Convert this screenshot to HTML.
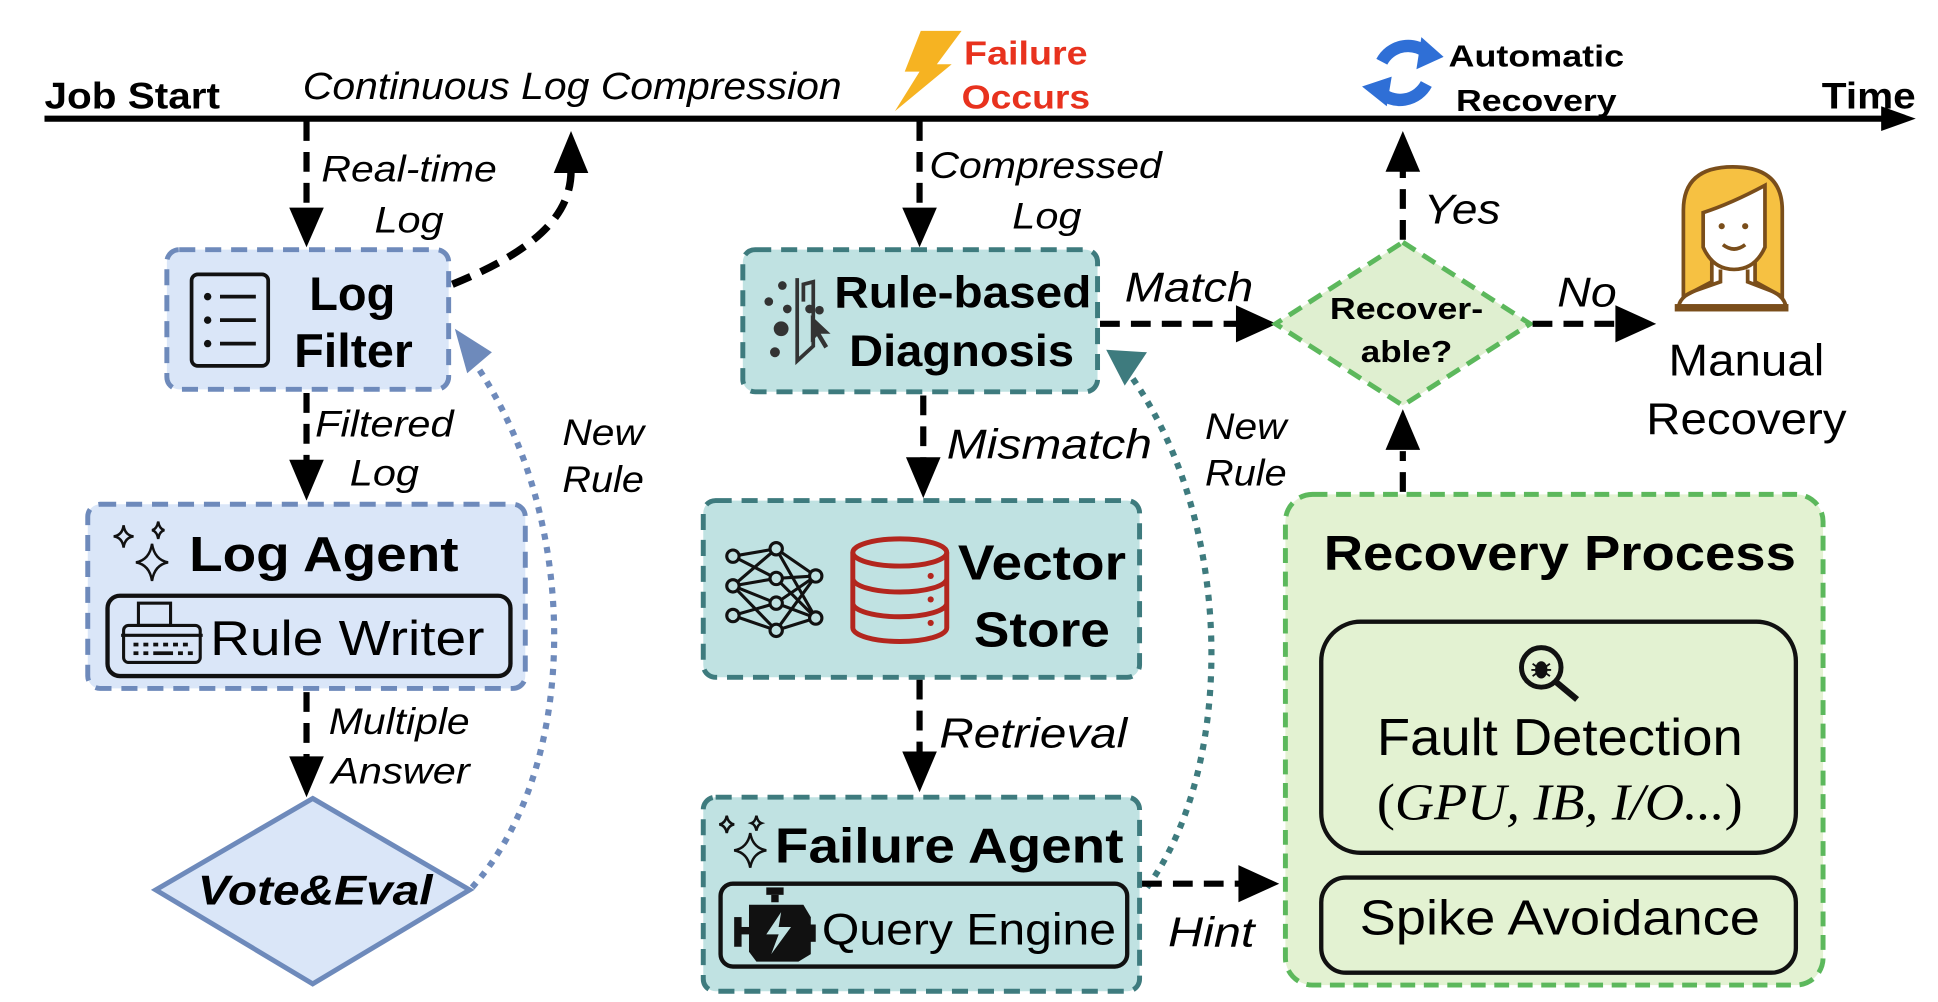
<!DOCTYPE html>
<html><head><meta charset="utf-8"><style>
html,body{margin:0;padding:0;background:#fff;}
svg{display:block;}
text{font-family:"Liberation Sans",sans-serif;}
.it{font-style:italic;}
.b{font-weight:bold;}
</style></head><body>
<svg width="1938" height="1002" viewBox="0 0 1568 810.7" preserveAspectRatio="none" xmlns="http://www.w3.org/2000/svg">
<!-- timeline -->
<line x1="36" y1="96" x2="1528" y2="96" stroke="#000" stroke-width="5"/>
<path d="M1522,86 L1550,96 L1522,106 z" fill="#000"/>
<text x="36" y="88" class="b" font-size="30" textLength="142" lengthAdjust="spacingAndGlyphs">Job Start</text>
<text x="245" y="80" class="it" font-size="31" textLength="436" lengthAdjust="spacingAndGlyphs">Continuous Log Compression</text>
<path d="M745,25 L778,25 L758,52 L770,52 L724,90 L744,58 L732,58 z" fill="#f6b322"/>
<text x="780" y="52" class="b" font-size="27" fill="#e8321e" textLength="100" lengthAdjust="spacingAndGlyphs">Failure</text>
<text x="778" y="88" class="b" font-size="27" fill="#e8321e" textLength="104" lengthAdjust="spacingAndGlyphs">Occurs</text>
<path d="M1118,50 A24,24 0 0 1 1156,44" fill="none" stroke="#2f6fd6" stroke-width="10"/>
<path d="M1150,30 L1168,46 L1146,56 z" fill="#2f6fd6"/>
<path d="M1154,68 A24,24 0 0 1 1116,74" fill="none" stroke="#2f6fd6" stroke-width="10"/>
<path d="M1122,86 L1102,70 L1126,62 z" fill="#2f6fd6"/>
<text x="1172" y="54" class="b" font-size="25" textLength="142" lengthAdjust="spacingAndGlyphs">Automatic</text>
<text x="1178" y="90" class="b" font-size="25" textLength="130" lengthAdjust="spacingAndGlyphs">Recovery</text>
<text x="1474" y="88" class="b" font-size="30" textLength="76" lengthAdjust="spacingAndGlyphs">Time</text>

<!-- LEFT column -->
<line x1="248" y1="98" x2="248" y2="172" stroke="#000" stroke-width="5" stroke-dasharray="16,9"/>
<path d="M234,168 L262,168 L248,200 z" fill="#000"/>
<text x="260" y="147" class="it" font-size="30" textLength="142" lengthAdjust="spacingAndGlyphs">Real-time</text>
<text x="303" y="188" class="it" font-size="30" textLength="56" lengthAdjust="spacingAndGlyphs">Log</text>
<path d="M366,230 C440,200 462,170 462,138" fill="none" stroke="#000" stroke-width="6" stroke-dasharray="16,9"/>
<path d="M448,140 L476,140 L462,106 z" fill="#000"/>

<rect x="135" y="202" width="228" height="113" rx="10" fill="#dae6f8" stroke="#6e8abb" stroke-width="4" stroke-dasharray="13,8"/>
<rect x="155" y="222" width="62" height="74" rx="5" fill="none" stroke="#111" stroke-width="3"/>
<g fill="#111"><circle cx="168" cy="240" r="3"/><circle cx="168" cy="259" r="3"/><circle cx="168" cy="278" r="3"/></g>
<g stroke="#111" stroke-width="3"><line x1="178" y1="240" x2="207" y2="240"/><line x1="178" y1="259" x2="207" y2="259"/><line x1="178" y1="278" x2="207" y2="278"/></g>
<text x="285" y="251" class="b" font-size="38" text-anchor="middle">Log</text>
<text x="286" y="297" class="b" font-size="38" text-anchor="middle" textLength="96" lengthAdjust="spacingAndGlyphs">Filter</text>

<line x1="248" y1="318" x2="248" y2="375" stroke="#000" stroke-width="5" stroke-dasharray="16,9"/>
<path d="M234,372 L262,372 L248,405 z" fill="#000"/>
<text x="255" y="353" class="it" font-size="30" textLength="112" lengthAdjust="spacingAndGlyphs">Filtered</text>
<text x="283" y="393" class="it" font-size="30" textLength="56" lengthAdjust="spacingAndGlyphs">Log</text>

<rect x="71" y="408" width="354" height="149" rx="10" fill="#dae6f8" stroke="#6e8abb" stroke-width="4" stroke-dasharray="13,8"/>
<path d="M100,425 Q101,433 108,434 Q101,435 100,443 Q99,435 92,434 Q99,433 100,425z M123,440 Q125,453 136,455 Q125,457 123,470 Q121,457 110,455 Q121,453 123,440z M128,422 Q129,428 133,429 Q129,430 128,436 Q127,430 123,429 Q127,428 128,422z" fill="none" stroke="#111" stroke-width="2"/>
<text x="153" y="462" class="b" font-size="40" textLength="218" lengthAdjust="spacingAndGlyphs">Log Agent</text>
<rect x="87" y="482" width="326" height="65" rx="10" fill="#dae6f8" stroke="#111" stroke-width="3.5"/>
<g stroke="#111" stroke-width="2.5" fill="none"><rect x="112" y="488" width="26" height="18"/><rect x="100" y="506" width="62" height="30" rx="4"/><line x1="98" y1="514" x2="164" y2="514"/></g>
<g fill="#111"><rect x="108" y="520" width="4" height="3"/><rect x="116" y="520" width="4" height="3"/><rect x="124" y="520" width="4" height="3"/><rect x="132" y="520" width="4" height="3"/><rect x="140" y="520" width="4" height="3"/><rect x="148" y="520" width="4" height="3"/><rect x="108" y="527" width="4" height="3"/><rect x="116" y="527" width="4" height="3"/><rect x="124" y="527" width="16" height="3"/><rect x="144" y="527" width="4" height="3"/><rect x="152" y="527" width="4" height="3"/></g>
<text x="170" y="530" font-size="40" textLength="222" lengthAdjust="spacingAndGlyphs">Rule Writer</text>

<line x1="248" y1="560" x2="248" y2="615" stroke="#000" stroke-width="5" stroke-dasharray="16,9"/>
<path d="M234,612 L262,612 L248,645 z" fill="#000"/>
<text x="266" y="594" class="it" font-size="30" textLength="114" lengthAdjust="spacingAndGlyphs">Multiple</text>
<text x="268" y="634" class="it" font-size="30" textLength="112" lengthAdjust="spacingAndGlyphs">Answer</text>

<path d="M253,646 L380,720 L253,796 L126,720 z" fill="#dae6f8" stroke="#6e8abb" stroke-width="4"/>
<text x="255" y="732" class="b it" font-size="34" text-anchor="middle" textLength="190" lengthAdjust="spacingAndGlyphs">Vote&amp;Eval</text>

<path d="M382,718 C470,620 470,420 385,295" fill="none" stroke="#6e8abb" stroke-width="5" stroke-dasharray="5,6"/>
<path d="M368,266 L398,285 L378,302 z" fill="#6e8abb"/>
<text x="455" y="360" class="it" font-size="30" textLength="66" lengthAdjust="spacingAndGlyphs">New</text>
<text x="455" y="398" class="it" font-size="30" textLength="66" lengthAdjust="spacingAndGlyphs">Rule</text>

<!-- MIDDLE column -->
<line x1="744" y1="98" x2="744" y2="170" stroke="#000" stroke-width="5" stroke-dasharray="16,9"/>
<path d="M730,168 L758,168 L744,200 z" fill="#000"/>
<text x="752" y="144" class="it" font-size="30" textLength="188" lengthAdjust="spacingAndGlyphs">Compressed</text>
<text x="819" y="185" class="it" font-size="30" textLength="56" lengthAdjust="spacingAndGlyphs">Log</text>

<rect x="601" y="202" width="287" height="115" rx="10" fill="#c0e2e2" stroke="#3e7b7e" stroke-width="4" stroke-dasharray="13,8"/>
<g fill="#333"><circle cx="633" cy="231" r="3.5"/><circle cx="622" cy="244" r="3.5"/><circle cx="637" cy="250" r="3.5"/><circle cx="632" cy="266" r="6"/><circle cx="627" cy="285" r="4"/><circle cx="655" cy="250" r="3.5"/><circle cx="663" cy="251" r="3.5"/></g>
<path d="M650,244 L650,230 L658,228 L658,280 L645,292 L645,225" fill="none" stroke="#333" stroke-width="3"/>
<path d="M656,255 L672,270 L664,270 L670,280 L667,282 L661,272 L656,277 z" fill="#333"/>
<text x="675" y="249" class="b" font-size="36" textLength="208" lengthAdjust="spacingAndGlyphs">Rule-based</text>
<text x="687" y="296" class="b" font-size="36" textLength="182" lengthAdjust="spacingAndGlyphs">Diagnosis</text>

<line x1="747" y1="320" x2="747" y2="372" stroke="#000" stroke-width="5" stroke-dasharray="16,9"/>
<path d="M733,370 L761,370 L747,403 z" fill="#000"/>
<text x="766" y="371" class="it" font-size="34" textLength="166" lengthAdjust="spacingAndGlyphs">Mismatch</text>

<rect x="569" y="405" width="353" height="143" rx="10" fill="#c0e2e2" stroke="#3e7b7e" stroke-width="4" stroke-dasharray="13,8"/>
<g stroke="#111" stroke-width="2.5" fill="none">
<path d="M593,450 L628,444 L660,466 M593,450 L628,468 L660,466 M593,474 L628,444 M593,474 L628,468 M593,474 L628,488 M593,474 L628,510 M593,498 L628,488 L660,500 M593,498 L628,510 L660,500 M628,444 L660,500 M628,510 L660,466 M628,468 L660,500 M628,488 L660,466"/>
<circle cx="593" cy="450" r="5" fill="#c0e2e2"/><circle cx="593" cy="474" r="5" fill="#c0e2e2"/><circle cx="593" cy="498" r="5" fill="#c0e2e2"/>
<circle cx="628" cy="444" r="5" fill="#c0e2e2"/><circle cx="628" cy="468" r="5" fill="#c0e2e2"/><circle cx="628" cy="488" r="5" fill="#c0e2e2"/><circle cx="628" cy="510" r="5" fill="#c0e2e2"/>
<circle cx="660" cy="466" r="5" fill="#c0e2e2"/><circle cx="660" cy="500" r="5" fill="#c0e2e2"/>
</g>
<g stroke="#b3261e" stroke-width="4" fill="none">
<ellipse cx="728" cy="447" rx="38" ry="11"/>
<path d="M690,447 L690,508 A38,11 0 0 0 766,508 L766,447 M690,468 A38,11 0 0 0 766,468 M690,488 A38,11 0 0 0 766,488"/>
</g>
<g fill="#b3261e"><circle cx="753" cy="466" r="2.5"/><circle cx="753" cy="485" r="2.5"/><circle cx="753" cy="504" r="2.5"/></g>
<text x="775" y="469" class="b" font-size="40" textLength="136" lengthAdjust="spacingAndGlyphs">Vector</text>
<text x="788" y="523" class="b" font-size="40" textLength="110" lengthAdjust="spacingAndGlyphs">Store</text>

<line x1="744" y1="550" x2="744" y2="610" stroke="#000" stroke-width="5" stroke-dasharray="16,9"/>
<path d="M730,608 L758,608 L744,641 z" fill="#000"/>
<text x="760" y="605" class="it" font-size="34" textLength="152" lengthAdjust="spacingAndGlyphs">Retrieval</text>

<rect x="569" y="645" width="353" height="157" rx="10" fill="#c0e2e2" stroke="#3e7b7e" stroke-width="4" stroke-dasharray="13,8"/>
<path d="M588,660 Q589,666 594,667 Q589,668 588,674 Q587,668 582,667 Q587,666 588,660z M607,674 Q609,686 620,688 Q609,690 607,702 Q605,690 594,688 Q605,686 607,674z M612,660 Q613,665 616,666 Q613,667 612,672 Q611,667 608,666 Q611,665 612,660z" fill="none" stroke="#111" stroke-width="2"/>
<text x="627" y="698" class="b" font-size="40" textLength="282" lengthAdjust="spacingAndGlyphs">Failure Agent</text>
<rect x="583" y="715" width="329" height="67" rx="10" fill="#c0e2e2" stroke="#111" stroke-width="3.5"/>
<g fill="#111"><rect x="620" y="718" width="14" height="6"/><rect x="624" y="724" width="6" height="6"/><path d="M606,732 L650,732 L656,742 L656,772 L646,778 L612,778 L606,770 z"/><rect x="594" y="742" width="6" height="24"/><rect x="598" y="750" width="10" height="6"/><rect x="654" y="748" width="6" height="14"/></g>
<path d="M632,738 L620,756 L630,756 L624,772 L640,750 L630,750 z" fill="#c0e2e2"/>
<text x="665" y="764" font-size="36" textLength="238" lengthAdjust="spacingAndGlyphs">Query Engine</text>

<path d="M928,718 C1000,620 1000,420 912,300" fill="none" stroke="#3e7b7e" stroke-width="5" stroke-dasharray="5,6"/>
<path d="M895,283 L928,285 L910,312 z" fill="#3e7b7e"/>
<text x="975" y="355" class="it" font-size="30" textLength="66" lengthAdjust="spacingAndGlyphs">New</text>
<text x="975" y="393" class="it" font-size="30" textLength="66" lengthAdjust="spacingAndGlyphs">Rule</text>

<line x1="924" y1="715" x2="1005" y2="715" stroke="#000" stroke-width="5" stroke-dasharray="16,9"/>
<path d="M1002,700 L1035,715 L1002,730 z" fill="#000"/>
<text x="945" y="766" class="it" font-size="34" textLength="70" lengthAdjust="spacingAndGlyphs">Hint</text>

<line x1="890" y1="262" x2="1002" y2="262" stroke="#000" stroke-width="5" stroke-dasharray="16,9"/>
<path d="M1000,247 L1033,262 L1000,277 z" fill="#000"/>
<text x="910" y="244" class="it" font-size="34" textLength="104" lengthAdjust="spacingAndGlyphs">Match</text>

<!-- RIGHT -->
<path d="M1135,196 L1238,262 L1135,328 L1032,262 z" fill="#dfefd0" stroke="#5cb85c" stroke-width="4" stroke-dasharray="12,7"/>
<text x="1138" y="258" class="b" font-size="25" text-anchor="middle" textLength="124" lengthAdjust="spacingAndGlyphs">Recover-</text>
<text x="1138" y="293" class="b" font-size="25" text-anchor="middle" textLength="74" lengthAdjust="spacingAndGlyphs">able?</text>

<line x1="1135" y1="194" x2="1135" y2="138" stroke="#000" stroke-width="5" stroke-dasharray="16,9"/>
<path d="M1121,139 L1149,139 L1135,106 z" fill="#000"/>
<text x="1152" y="181" class="it" font-size="34" textLength="62" lengthAdjust="spacingAndGlyphs">Yes</text>

<line x1="1240" y1="262" x2="1310" y2="262" stroke="#000" stroke-width="5" stroke-dasharray="16,9"/>
<path d="M1307,247 L1340,262 L1307,277 z" fill="#000"/>
<text x="1260" y="248" class="it" font-size="34" textLength="48" lengthAdjust="spacingAndGlyphs">No</text>

<!-- person -->
<path d="M1362,215 L1362,170 Q1362,135 1402,135 Q1442,135 1442,170 L1442,240 L1420,228 L1420,200 L1385,200 L1385,228 L1362,240 Z" fill="#f6c142" stroke="#7a4e1b" stroke-width="3"/>
<path d="M1378,200 L1378,172 Q1400,165 1428,150 L1428,200 Q1420,218 1403,218 Q1386,218 1378,200z" fill="#fff" stroke="#7a4e1b" stroke-width="3"/>
<circle cx="1393" cy="183" r="2.5" fill="#7a4e1b"/><circle cx="1412" cy="183" r="2.5" fill="#7a4e1b"/>
<path d="M1394,198 Q1403,205 1412,198" fill="none" stroke="#7a4e1b" stroke-width="3"/>
<path d="M1392,218 L1392,228 L1372,235 Q1358,240 1358,250 L1445,250 Q1445,240 1432,235 L1414,228 L1414,218" fill="none" stroke="#7a4e1b" stroke-width="3"/>
<rect x="1355" y="246" width="92" height="6" fill="#7a4e1b"/>
<text x="1413" y="304" font-size="36" text-anchor="middle" textLength="126" lengthAdjust="spacingAndGlyphs">Manual</text>
<text x="1413" y="351" font-size="36" text-anchor="middle" textLength="162" lengthAdjust="spacingAndGlyphs">Recovery</text>

<line x1="1135" y1="398" x2="1135" y2="365" stroke="#000" stroke-width="5" stroke-dasharray="16,9"/>
<path d="M1121,364 L1149,364 L1135,331 z" fill="#000"/>

<rect x="1040" y="400" width="435" height="397" rx="22" fill="#e3f2d2" stroke="#5cb85c" stroke-width="4" stroke-dasharray="12,7"/>
<text x="1262" y="461" class="b" font-size="40" text-anchor="middle" textLength="382" lengthAdjust="spacingAndGlyphs">Recovery Process</text>
<rect x="1069" y="503" width="384" height="187" rx="32" fill="#e3f2d2" stroke="#111" stroke-width="3.5"/>
<circle cx="1247" cy="540" r="16" fill="none" stroke="#111" stroke-width="4"/>
<line x1="1258" y1="551" x2="1276" y2="566" stroke="#111" stroke-width="5"/>
<ellipse cx="1247" cy="542" rx="5" ry="7" fill="#111"/>
<g stroke="#111" stroke-width="1.5"><line x1="1240" y1="537" x2="1254" y2="547"/><line x1="1254" y1="537" x2="1240" y2="547"/><line x1="1239" y1="542" x2="1255" y2="542"/></g>
<text x="1262" y="611" font-size="42" text-anchor="middle" textLength="296" lengthAdjust="spacingAndGlyphs">Fault Detection</text>
<text x="1262" y="663" font-size="42" text-anchor="middle" style="font-family:'Liberation Serif',serif" textLength="296" lengthAdjust="spacingAndGlyphs">(<tspan font-style="italic">GPU, IB, I/O...</tspan>)</text>
<rect x="1069" y="710" width="384" height="77" rx="20" fill="#e3f2d2" stroke="#111" stroke-width="3.5"/>
<text x="1262" y="756" font-size="40" text-anchor="middle" textLength="324" lengthAdjust="spacingAndGlyphs">Spike Avoidance</text>
</svg>
</body></html>
